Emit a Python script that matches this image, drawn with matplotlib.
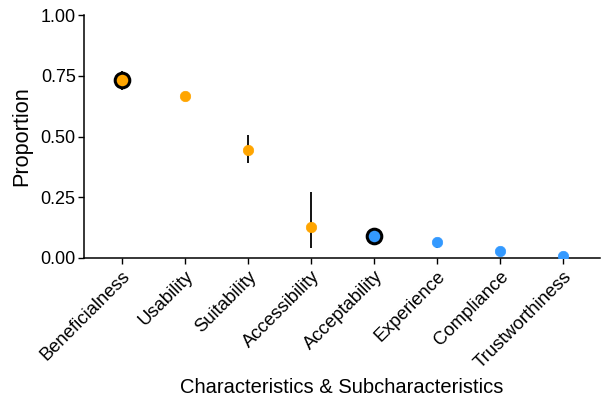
import matplotlib
matplotlib.use("Agg")
import matplotlib.pyplot as plt
import numpy as np

categories = ["Beneficialness", "Usability", "Suitability", "Accessibility",
              "Acceptability", "Experience", "Compliance", "Trustworthiness"]
proportion = [0.733, 0.668, 0.444, 0.126, 0.091, 0.064, 0.030, 0.008]
lower = [0.690, 0.668, 0.393, 0.040, 0.091, 0.040, 0.030, 0.008]
upper = [0.770, 0.668, 0.508, 0.272, 0.091, 0.080, 0.030, 0.008]
group = ["char", "char", "char", "char", "sub", "sub", "sub", "sub"]
highlight = [True, False, False, False, True, False, False, False]
yticks = [0.00, 0.25, 0.50, 0.75, 1.00]

colors = {"char": "#FFA500", "sub": "#3399FF"}

plt.rcParams['font.family'] = ['Liberation Sans', 'DejaVu Sans']

fig = plt.figure(figsize=(6.02, 4.03), dpi=100)
ax = fig.add_axes([84/602, 1 - 258/403, (600-84)/602, (258-15)/403])

x = np.arange(len(categories))
for i in range(len(categories)):
    if upper[i] > lower[i]:
        ax.vlines(x[i], lower[i], upper[i], color="black", linewidth=1.3, zorder=2)
    c = colors[group[i]]
    if highlight[i]:
        ax.plot(x[i], proportion[i], 'o', markersize=10.5, markerfacecolor=c,
                markeredgecolor="black", markeredgewidth=2.2, zorder=3)
    else:
        ax.plot(x[i], proportion[i], 'o', markersize=7.5, markerfacecolor=c,
                markeredgecolor=c, markeredgewidth=0.5, zorder=3)

ax.set_xlim(-0.6, 7.59)
ax.set_ylim(0, 1)
ax.set_yticks(yticks)
ax.set_yticklabels([f"{v:.2f}" for v in yticks])
ax.set_xticks(x)
ax.set_xticklabels(categories, rotation=45, ha="right", rotation_mode="anchor")
ax.tick_params(axis="both", length=4, width=1, colors="black")
ax.tick_params(axis="x", labelsize=13.3, pad=3)
ax.tick_params(axis="y", labelsize=13, pad=2)
for s in ["top", "right"]:
    ax.spines[s].set_visible(False)
for s in ["left", "bottom"]:
    ax.spines[s].set_linewidth(1.1)
ax.set_ylabel("Proportion", fontsize=15.6, labelpad=6)
ax.set_xlabel("Characteristics & Subcharacteristics", fontsize=14.5, labelpad=5)

fig.savefig("out.png", dpi=100)
